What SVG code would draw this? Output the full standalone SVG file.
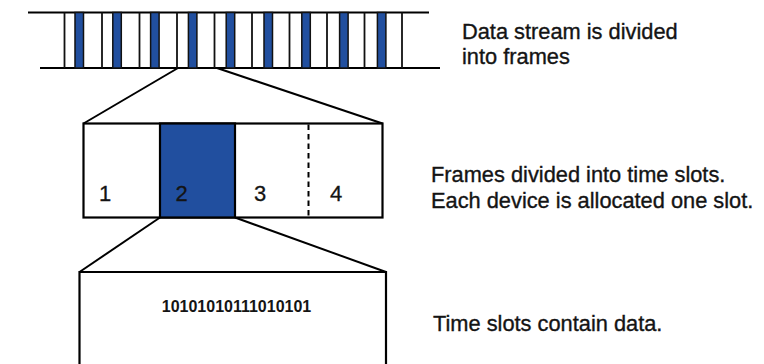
<svg xmlns="http://www.w3.org/2000/svg" width="764" height="364" viewBox="0 0 764 364">
<style>
.ln{stroke:#000;stroke-width:2;fill:none}
.thin{stroke:#111;stroke-width:1.8}
.bar{fill:#214f9f;stroke:#111;stroke-width:1.5}
.box{fill:#fff;stroke:#000;stroke-width:2.2}
.t{font-family:"Liberation Sans",Arial,sans-serif;fill:#141414}
.lbl{font-size:21.8px;stroke:#141414;stroke-width:0.35}
.num{font-size:22px;text-anchor:middle;stroke:#141414;stroke-width:0.3}
.bin{font-size:16px;font-weight:bold;text-anchor:middle}
</style>
<rect width="764" height="364" fill="#fff"/>
<g id="stream">
<line class="ln" x1="28" y1="12.5" x2="429" y2="12.5"/>
<line class="ln" x1="40" y1="68" x2="440" y2="68"/>
<g class="thin">
<line x1="64.5" y1="12.5" x2="64.5" y2="68"/>
<line x1="102" y1="12.5" x2="102" y2="68"/>
<line x1="139.5" y1="12.5" x2="139.5" y2="68"/>
<line x1="177" y1="12.5" x2="177" y2="68"/>
<line x1="214.5" y1="12.5" x2="214.5" y2="68"/>
<line x1="252" y1="12.5" x2="252" y2="68"/>
<line x1="289.5" y1="12.5" x2="289.5" y2="68"/>
<line x1="327" y1="12.5" x2="327" y2="68"/>
<line x1="364.5" y1="12.5" x2="364.5" y2="68"/>
<line x1="402" y1="12.5" x2="402" y2="68"/>
</g>
<rect class="bar" x="75" y="12.5" width="8.5" height="55.5"/>
<rect class="bar" x="112.8" y="12.5" width="8.5" height="55.5"/>
<rect class="bar" x="150.6" y="12.5" width="8.5" height="55.5"/>
<rect class="bar" x="188.4" y="12.5" width="8.5" height="55.5"/>
<rect class="bar" x="226.2" y="12.5" width="8.5" height="55.5"/>
<rect class="bar" x="264" y="12.5" width="8.5" height="55.5"/>
<rect class="bar" x="301.8" y="12.5" width="8.5" height="55.5"/>
<rect class="bar" x="339.6" y="12.5" width="8.5" height="55.5"/>
<rect class="bar" x="377.4" y="12.5" width="8.5" height="55.5"/>
</g>
<g id="connectors" class="ln">
<line x1="178" y1="68" x2="83.5" y2="123.5"/>
<line x1="217" y1="68" x2="382.5" y2="123.5"/>
<line x1="160" y1="217.5" x2="79.5" y2="272"/>
<line x1="235" y1="217.5" x2="386" y2="272"/>
</g>
<g id="frame">
<rect class="box" x="83.5" y="123.5" width="299" height="94"/>
<rect x="160" y="123.5" width="75" height="94" fill="#214f9f" stroke="#000" stroke-width="2.2"/>
<line x1="308.5" y1="124.5" x2="308.5" y2="216.5" stroke="#000" stroke-width="2" stroke-dasharray="5.5,4"/>
<text class="t num" x="105" y="200.5">1</text>
<text class="t num" x="181.7" y="200.5">2</text>
<text class="t num" x="260" y="200.5">3</text>
<text class="t num" x="336" y="200.5">4</text>
</g>
<g id="slot">
<path class="box" d="M79.5 370 V272 H386 V370"/>
<text class="t bin" x="236.5" y="312">10101010111010101</text>
</g>
<g id="labels">
<text class="t lbl" x="462" y="39">Data stream is divided</text>
<text class="t lbl" x="462" y="64">into frames</text>
<text class="t lbl" x="431" y="182">Frames divided into time slots.</text>
<text class="t lbl" x="431" y="207.5">Each device is allocated one slot.</text>
<text class="t lbl" x="433" y="330.5">Time slots contain data.</text>
</g>
</svg>
